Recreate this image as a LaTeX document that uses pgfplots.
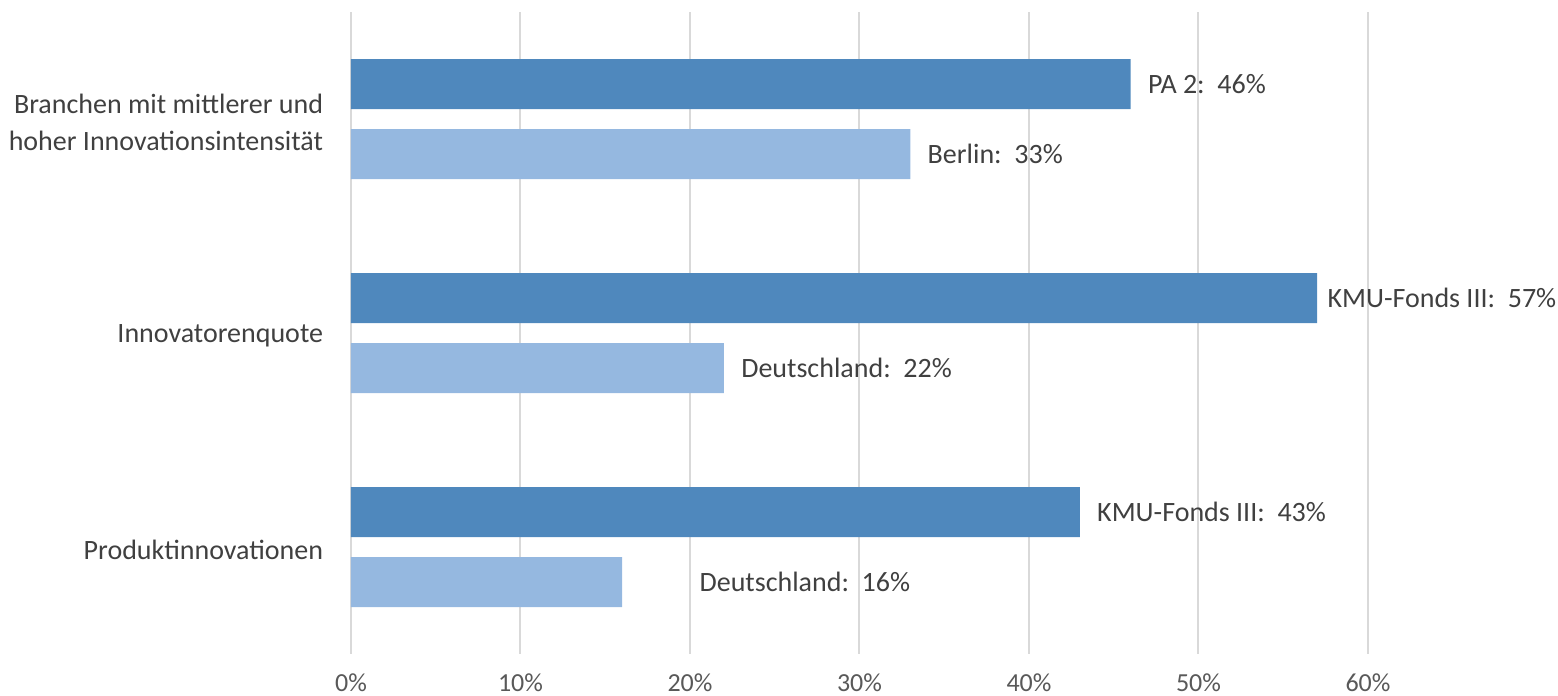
\documentclass[border=0pt]{standalone}
\usepackage{fontspec}
\setmainfont{Carlito}
\usepackage{pgfplots}
\pgfplotsset{compat=1.18}

\definecolor{darkbar}{HTML}{4F88BD}
\definecolor{lightbar}{HTML}{95B8E0}
\definecolor{labelgray}{HTML}{404040}
\definecolor{tickgray}{HTML}{595959}
\definecolor{gridgray}{HTML}{D9D9D9}

\begin{document}
\begin{tikzpicture}
\useasboundingbox (-175.5pt,-21pt) rectangle (603.5pt,327pt);

\begin{axis}[
    scale only axis,
    width=508.5pt,
    height=321pt,
    xmin=0, xmax=60,
    ymin=0.5, ymax=3.5,
    y dir=reverse,
    xbar,
    bar width=25pt,
    axis line style={draw=none},
    tick style={draw=none},
    xmajorgrids,
    grid style={gridgray, line width=1pt},
    xtick={0,10,20,30,40,50,60},
    xticklabel={\pgfmathprintnumber{\tick}\%},
    /pgf/number format/assume math mode=true,
    x tick label style={font=\fontsize{13}{15}\selectfont, text=tickgray, yshift=-6.5pt},
    ytick={1,2,3},
    yticklabels={{Branchen mit mittlerer und\\hoher Innovationsintensität}, Innovatorenquote, Produktinnovationen},
    y tick label style={font=\fontsize{14}{18.5}\selectfont, text=labelgray, align=right, inner sep=0pt, xshift=-9.5pt, yshift=-1.5pt},
    point meta=explicit symbolic,
    nodes near coords,
    every node near coord/.append style={font=\fontsize{14}{17}\selectfont, text=labelgray, anchor=west, inner sep=0pt, xshift=8.5pt},
    clip=false,
]

% Projekt / Fonds
\addplot[draw=none, fill=darkbar, bar shift=17.5pt] coordinates {
    (46,1) [PA~2:~~46\%]
    (57,2) [\hspace*{-3.5pt}KMU-Fonds~III:~~57\%]
    (43,3) [KMU-Fonds~III:~~43\%]
};

% Vergleich
\addplot[draw=none, fill=lightbar, bar shift=-17.5pt] coordinates {
    (33,1) [Berlin:~~33\%]
    (22,2) [Deutschland:~~22\%]
    (16,3) [\hspace*{30pt}Deutschland:~~16\%]
};

\end{axis}
\end{tikzpicture}
\end{document}
